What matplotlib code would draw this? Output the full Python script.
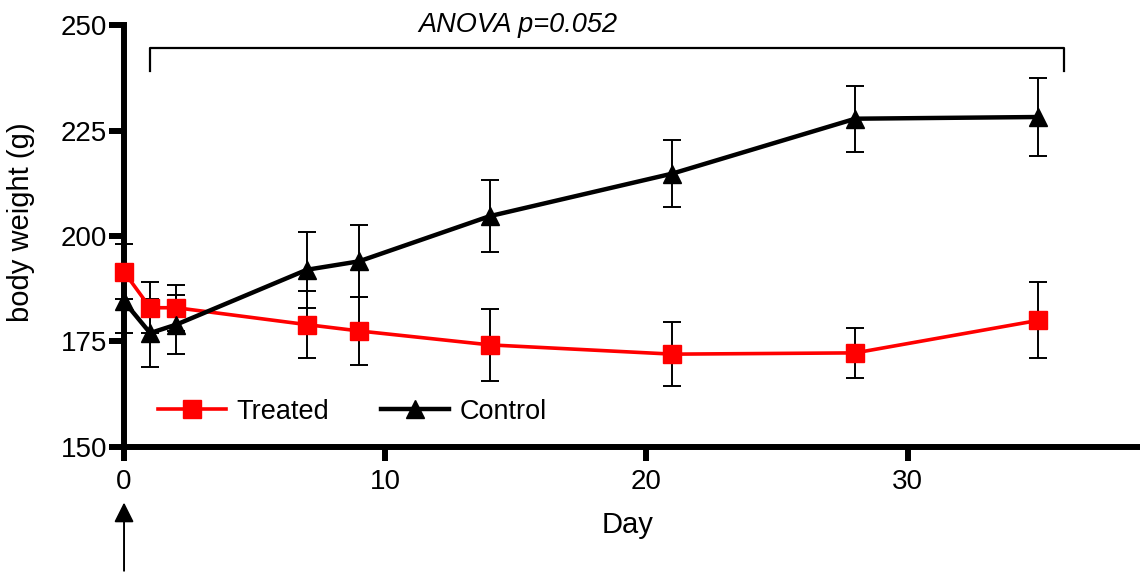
import matplotlib
matplotlib.use("Agg")
import matplotlib.pyplot as plt

plt.rcParams["font.family"] = ["Liberation Sans", "DejaVu Sans"]

# body weight (g) over days, mean +/- SEM
days = [0, 1, 2, 7, 9, 14, 21, 28, 35]
treated = [191.5, 183.0, 183.0, 179.0, 177.5, 174.2, 172.0, 172.3, 180.0]
treated_err = [6.5, 6.0, 5.5, 8.0, 8.0, 8.5, 7.5, 6.0, 9.0]
control = [184.5, 177.0, 179.0, 192.0, 194.0, 204.7, 214.8, 227.8, 228.2]
control_err = [7.5, 8.0, 7.0, 9.0, 8.5, 8.5, 8.0, 7.8, 9.2]

yticks = [150, 175, 200, 225, 250]
xticks = [0, 10, 20, 30]
bracket_days = (1, 36)
bracket_y = (239, 244.6)
anova_text = "ANOVA p=0.052"

fig = plt.figure(figsize=(11.4, 5.74), dpi=100)
ax = fig.add_axes([0.1088, 0.2213, 0.8912, 0.7351])

err_kw = dict(fmt="none", ecolor="black", elinewidth=1.4, capsize=6.5,
              capthick=1.4, clip_on=False)
ax.errorbar(days, treated, yerr=treated_err, zorder=2, **err_kw)
ax.errorbar(days, control, yerr=control_err, zorder=2, **err_kw)
ax.plot(days, treated, color="#ff0000", lw=2.6, marker="s", markersize=13,
        label="Treated", zorder=3, clip_on=False)
ax.plot(days, control, color="black", lw=3.2, marker="^", markersize=13,
        label="Control", zorder=4, clip_on=False)

ax.set_xlim(0, 38.9)
ax.set_ylim(150, 250)
ax.set_xticks(xticks)
ax.set_yticks(yticks)

for side in ("top", "right"):
    ax.spines[side].set_visible(False)
for side in ("left", "bottom"):
    ax.spines[side].set_linewidth(4.3)
ax.tick_params(axis="both", direction="out", width=4.3, labelsize=20)
ax.tick_params(axis="y", length=11, pad=1)
ax.tick_params(axis="x", length=10, pad=6)

ax.set_xlabel("Day", fontsize=21)
ax.xaxis.set_label_coords(0.496, -0.152)
ax.set_ylabel("body weight (g)", fontsize=21)
ax.yaxis.set_label_coords(-0.088, 0.533)

# significance bracket
b0, b1 = bracket_days
ax.plot([b0, b0, b1, b1], [bracket_y[0], bracket_y[1], bracket_y[1], bracket_y[0]],
        color="black", lw=1.6, clip_on=False)
ax.text((b0 + b1) / 2 - 3.4, 248.3, anova_text, fontsize=19.5, style="italic",
        ha="center", va="baseline", clip_on=False)

# treatment arrow under day 0
ax.annotate("", xy=(0, -0.125), xycoords=("data", "axes fraction"),
            xytext=(0, -0.30), textcoords=("data", "axes fraction"),
            arrowprops=dict(arrowstyle="-|>", color="black", lw=1.4,
                            mutation_scale=30))

ax.legend(loc="center left", bbox_to_anchor=(0.0335, 0.083), ncol=2,
          frameon=False, fontsize=19.5, handlelength=2.5, columnspacing=1.9,
          handletextpad=0.4, borderpad=0, borderaxespad=0)

fig.savefig("out.png", dpi=100)
